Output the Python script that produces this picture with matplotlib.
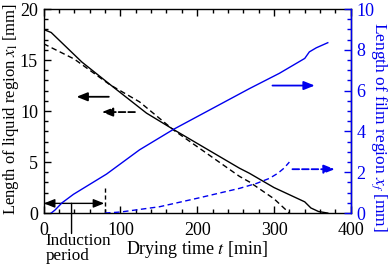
import matplotlib
matplotlib.use("Agg")
import matplotlib.pyplot as plt
from matplotlib.ticker import MultipleLocator

plt.rcParams['font.family'] = ['Liberation Serif', 'DejaVu Serif']
plt.rcParams['mathtext.fontset'] = 'stix'
plt.rcParams['font.size'] = 13

# Liquid region length x_l (left axis)
t_liq_solid = [0, 10, 50, 90, 134, 169, 255, 268, 300, 340, 348, 358, 370]
x_liq_solid = [18.0, 17.7, 14.8, 12.4, 9.8, 8.2, 4.4, 3.9, 2.5, 1.1, 0.5, 0.15, 0.0]
t_liq_dash = [0, 40, 86, 125, 170, 255, 268, 300, 320]
x_liq_dash = [16.6, 15.1, 12.6, 10.9, 8.1, 3.6, 3.05, 1.4, 0.0]

# Film region length x_f (right axis)
t_film_solid = [10, 15, 24, 39, 82, 125, 169, 268, 307, 340, 346, 355, 370]
x_film_solid = [0.0, 0.15, 0.5, 0.92, 1.91, 3.1, 4.1, 6.1, 6.85, 7.58, 7.9, 8.1, 8.35]
t_film_dash = [80, 100, 151, 190, 203, 255, 277, 294, 305, 313, 320]
x_film_dash = [0.0, 0.05, 0.31, 0.64, 0.75, 1.21, 1.45, 1.7, 1.95, 2.2, 2.5]

induction_end = 80

BLUE = '#0000ee'

fig = plt.figure(figsize=(3.92, 2.66), dpi=100)
ax = fig.add_axes([0.111, 0.199, 0.784, 0.767])
ax2 = ax.twinx()

ax.plot(t_liq_solid, x_liq_solid, color='black', lw=1.0)
ax.plot(t_liq_dash, x_liq_dash, color='black', lw=1.0, ls=(0, (4, 2.5)))
ax2.plot(t_film_solid, x_film_solid, color=BLUE, lw=1.0)
ax2.plot(t_film_dash, x_film_dash, color=BLUE, lw=1.0, ls=(0, (4, 2.5)))

ax.set_xlim(0, 400)
ax.set_ylim(0, 20)
ax2.set_ylim(0, 10)

ax.xaxis.set_major_locator(MultipleLocator(100))
ax.xaxis.set_minor_locator(MultipleLocator(20))
ax.yaxis.set_major_locator(MultipleLocator(5))
ax.yaxis.set_minor_locator(MultipleLocator(1))
ax2.yaxis.set_major_locator(MultipleLocator(2))
ax2.yaxis.set_minor_locator(MultipleLocator(0.5))

ax.tick_params(which='both', direction='in', top=True, right=False)
ax.tick_params(which='major', length=5, width=1)
ax.tick_params(which='minor', length=3, width=1)
ax.tick_params(axis='x', pad=6.5)
ax.tick_params(axis='y', pad=4)
ax2.tick_params(which='both', direction='in', colors=BLUE)
ax2.tick_params(which='major', length=5, width=1, pad=4)
ax2.tick_params(which='minor', length=3, width=1)
ax2.spines['right'].set_color(BLUE)
for s in ['left', 'top', 'bottom']:
    ax2.spines[s].set_visible(False)
for s in ax.spines.values():
    s.set_linewidth(1.0)
ax2.spines['right'].set_linewidth(1.0)

ax.set_xlabel(r'Drying time $t$ [min]', labelpad=0)
ax.set_ylabel(r'Length of liquid region $x_\mathrm{l}$ [mm]', fontsize=12)
ax.yaxis.set_label_coords(-0.074, 0.51)
ax2.set_ylabel(r'Length of film region $x_f$ [mm]', color=BLUE, rotation=270,
               fontsize=12.5, va='center')
ax2.yaxis.set_label_coords(1.092, 0.42)

# direction arrows
ap = dict(arrowstyle='-|>,head_length=0.5,head_width=0.2', lw=1.3, shrinkA=0, shrinkB=0)
ax.annotate('', xy=(43, 11.4), xytext=(85, 11.4), arrowprops=dict(color='black', **ap))
ax.annotate('', xy=(76, 9.9), xytext=(119, 9.9), arrowprops=dict(color='black', ls='--', **ap))
ax.annotate('', xy=(353, 12.5), xytext=(298, 12.5), arrowprops=dict(color=BLUE, **ap))
ax.annotate('', xy=(379, 4.3), xytext=(324, 4.3), arrowprops=dict(color=BLUE, ls='--', **ap))

# induction period
ax.plot([induction_end, induction_end], [0, 2.6], color='black', lw=1.0, ls=(0, (3, 2)))
ap2 = dict(arrowstyle='<|-|>,head_length=0.5,head_width=0.2', lw=1.0, shrinkA=0, shrinkB=0, color='black')
ax.annotate('', xy=(0.5, 0.95), xytext=(induction_end - 1, 0.95), arrowprops=ap2)
ax.annotate('', xy=(36.5, 0.95), xytext=(36.5, -2.0), annotation_clip=False,
            arrowprops=dict(arrowstyle='-', lw=1.0, color='black', shrinkA=0, shrinkB=0))
ax.text(3, -1.95, 'Induction\nperiod', ha='left', va='top', linespacing=0.95, fontsize=12.3)

fig.savefig('out.png', dpi=100)
